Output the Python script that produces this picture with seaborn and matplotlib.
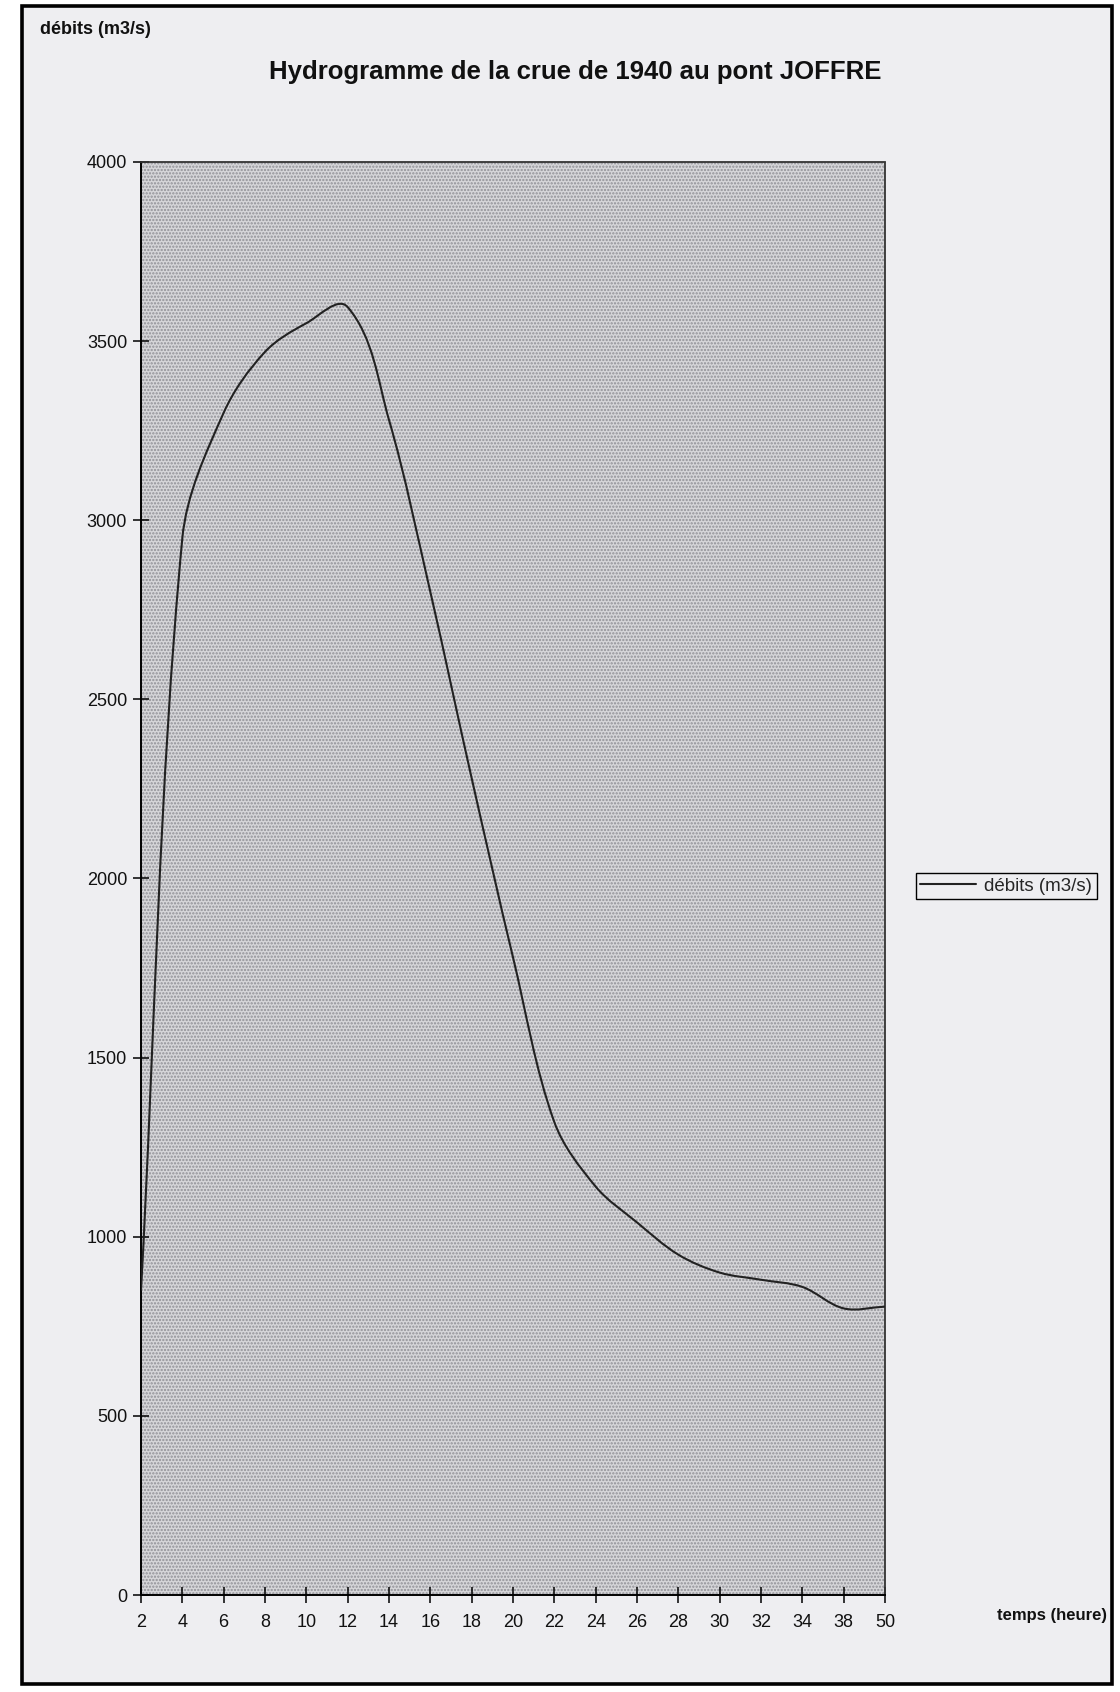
import numpy as np
import pandas as pd
import matplotlib
matplotlib.use("Agg")
import matplotlib.pyplot as plt
import seaborn as sns
from matplotlib.path import Path
from matplotlib.patches import PathPatch, Rectangle

# Hydrogramme de la crue de 1940 : débit relevé à chaque heure (axe par catégories)
heures = ["2", "4", "6", "8", "10", "12", "14", "16", "18", "20",
          "22", "24", "26", "28", "30", "32", "34", "38", "50"]
debits = [850, 2950, 3300, 3470, 3550, 3595, 3280, 2800, 2280, 1780,
          1320, 1140, 1040, 950, 900, 880, 860, 800, 805]
graduations_y = [0, 500, 1000, 1500, 2000, 2500, 3000, 3500, 4000]

titre = "Hydrogramme de la crue de 1940 au pont JOFFRE"
nom_serie = "débits (m3/s)"
nom_axe_x = "temps (heure)"

sns.set_theme(style="ticks")
plt.rcParams["font.family"] = ["Liberation Sans", "DejaVu Sans"]
plt.rcParams["hatch.linewidth"] = 1.1

W, H = 1120, 1692
fig = plt.figure(figsize=(W / 100, H / 100), dpi=100, facecolor="white")

# cadre de la zone de graphique
fig.patches.append(Rectangle((22 / W, 1 - 1684 / H), (1112 - 22) / W, (1684 - 6) / H,
                             transform=fig.transFigure, facecolor="#eeeef1",
                             edgecolor="black", linewidth=2.6, zorder=-1))

ax = fig.add_axes([141 / W, 1 - 1595 / H, (885 - 141) / W, (1595 - 162) / H])
ax.set_facecolor("#d6d6d9")
# trame pointillée de la zone de traçage
ax.add_patch(Rectangle((0, 0), 1, 1, transform=ax.transAxes, facecolor="none",
                       edgecolor="#909096", hatch=".....", linewidth=0, zorder=0))

df = pd.DataFrame({"rang": np.arange(len(heures)), "debit": debits})
sns.lineplot(data=df, x="rang", y="debit", ax=ax, color="#222222",
             linewidth=1.5, label=nom_serie, sort=False)
ligne = ax.lines[-1]

ax.set_xlim(0, len(heures) - 1)
ax.set_ylim(0, 4000)


def courbe_lissee(axe, xy, k=1 / 3):
    """Courbe lissée (Bézier) passant par chaque point, tangentes calculées à l'écran."""
    pix = axe.transData.transform(xy)
    n = len(pix)
    tangentes = []
    for i in range(n):
        d = pix[min(i + 1, n - 1)] - pix[max(i - 1, 0)]
        tangentes.append(d / np.hypot(*d))
    verts = [pix[0]]
    codes = [Path.MOVETO]
    for i in range(n - 1):
        seg = np.hypot(*(pix[i + 1] - pix[i]))
        verts += [pix[i] + tangentes[i] * seg * k,
                  pix[i + 1] - tangentes[i + 1] * seg * k,
                  pix[i + 1]]
        codes += [Path.CURVE4] * 3
    return Path(axe.transData.inverted().transform(np.array(verts)), codes)


ax.add_patch(PathPatch(courbe_lissee(ax, ligne.get_xydata()), facecolor="none",
                       edgecolor=ligne.get_color(), linewidth=ligne.get_linewidth(),
                       zorder=3))

ax.set_xticks(np.arange(len(heures)))
ax.set_xticklabels(heures)
ax.set_yticks(graduations_y)
ax.set_yticklabels([str(v) for v in graduations_y])
ax.set_xlabel("")
ax.set_ylabel("")
ax.grid(False)

ax.tick_params(direction="inout", length=12, width=1.1, color="black",
               labelsize=13, labelcolor="#111111")
ax.tick_params(axis="x", pad=7.5)
ax.tick_params(axis="y", pad=4)

for cote in ("left", "bottom"):
    ax.spines[cote].set_color("black")
    ax.spines[cote].set_linewidth(1.4)
for cote in ("top", "right"):
    ax.spines[cote].set_visible(True)
    ax.spines[cote].set_color("#333333")
    ax.spines[cote].set_linewidth(1.3)
    ax.spines[cote].set_linestyle((0, (1, 1)))

poignees, etiquettes = ax.get_legend_handles_labels()
ax.get_legend().remove()
fig.legend(poignees, etiquettes, loc="center", bbox_to_anchor=(1006 / W, 1 - 886 / H),
           frameon=True, fancybox=False, edgecolor="black", facecolor="#eeeef1",
           framealpha=1, fontsize=13.5, handlelength=3.0, borderpad=0.25,
           handletextpad=0.4)
ligne.set_visible(False)

fig.text(575 / W, 1 - 72 / H, titre, ha="center", va="center",
         fontsize=18.5, fontweight="bold", color="#111111")
fig.text(40 / W, 1 - 30 / H, nom_serie, ha="left", va="center",
         fontsize=13, fontweight="bold", color="#111111")
fig.text(1107 / W, 1 - 1615 / H, nom_axe_x, ha="right", va="center",
         fontsize=12, fontweight="bold", color="#111111")

fig.savefig("out.png", dpi=100, facecolor=fig.get_facecolor())
